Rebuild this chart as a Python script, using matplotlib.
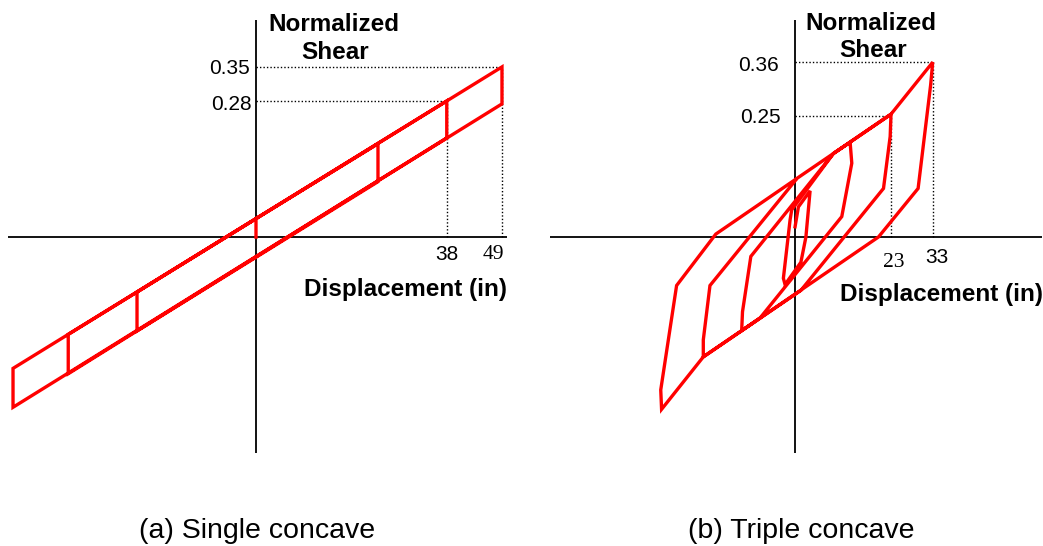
import matplotlib.pyplot as plt

# single concave loop: displacement (in), normalized shear
disp_a = [0.0, 0.0, 24.3, 24.3, -23.7, -23.7, 38.0, 38.0, -37.4, -37.4,
          49.0, 49.0, -48.4, -48.4, 0.0]
shear_a = [0.0, 0.038, 0.192, 0.114, -0.193, -0.113, 0.280, 0.204, -0.281, -0.200,
           0.350, 0.274, -0.350, -0.270, 0.038]

# triple concave loops
disp_b = [0.0, 0.8, 3.6, 2.6, 1.4, -2.4, -2.8, -1.2, -0.8, 9.2, 13.2, 13.6, 11.2,
          -8.4, -12.8, -12.6, -10.6, 9.2, 23.0, 22.8, 21.2, 1.4, -22.0, -22.0,
          -20.4, 0.5, 23.0, 33.0, 32.5, 29.5, 20.0, -22.0, -32.0, -32.2, -28.4,
          -19.0, 0.0]
shear_b = [0.021, 0.062, 0.095, 0.0, -0.052, -0.098, -0.085, 0.035, 0.056, 0.172,
           0.195, 0.152, 0.042, -0.167, -0.193, -0.154, -0.040, 0.172, 0.253,
           0.207, 0.100, -0.110, -0.247, -0.212, -0.100, 0.121, 0.253, 0.360,
           0.313, 0.100, 0.0, -0.247, -0.355, -0.315, -0.100, 0.006, 0.118]

# marked peaks: (displacement, shear, displacement label, shear label)
marks_a = [(49, 0.35, "49", "0.35"), (38, 0.28, "38", "0.28")]
marks_b = [(33, 0.36, "33", "0.36"), (23, 0.25, "23", "0.25")]

W, H = 1043, 546
fig = plt.figure(figsize=(W / 100, H / 100), dpi=100)


def make_axes(left, right, top, bottom, xlim, ylim):
    ax = fig.add_axes([left / W, (H - bottom) / H, (right - left) / W, (bottom - top) / H])
    ax.set_xlim(*xlim)
    ax.set_ylim(*ylim)
    ax.axis("off")
    ax.axhline(0, color="black", lw=1.3, zorder=1)
    ax.axvline(0, color="black", lw=1.3, zorder=1)
    return ax


def guides(ax, marks):
    for x, y, _, _ in marks:
        ax.plot([0, x], [y, y], color="black", lw=1.0, ls=(0, (1, 1.5)), zorder=1)
        ax.plot([x, x], [0, y], color="black", lw=1.0, ls=(0, (1, 1.5)), zorder=1)


sans = "Liberation Sans"
serif = "Liberation Serif"

# (a) single concave
ax1 = make_axes(8, 507, 20, 453, (-49.4, 50.0), (-0.444, 0.4465))
guides(ax1, marks_a)
ax1.plot(disp_a, shear_a, color="#ff0000", lw=2.4, solid_joinstyle="miter", zorder=3)
ax1.text(15.5, 0.438, "Normalized", family=sans, weight="bold", fontsize=17.5,
         ha="center", va="center")
ax1.text(15.8, 0.380, "Shear", family=sans, weight="bold", fontsize=17.5,
         ha="center", va="center")
ax1.text(29.8, -0.107, "Displacement (in)", family=sans, weight="bold", fontsize=17.5,
         ha="center", va="center")
ax1.text(-1.2, 0.346, marks_a[0][3], family=sans, fontsize=15, ha="right", va="center")
ax1.text(-0.8, 0.272, marks_a[1][3], family=sans, fontsize=15, ha="right", va="center")
ax1.text(47.2, -0.035, marks_a[0][2], family=serif, fontsize=15.5, ha="center", va="center")
ax1.text(38.0, -0.035, marks_a[1][2], family=sans, fontsize=15, ha="center", va="center")

# (b) triple concave
ax2 = make_axes(550, 1042, 20, 453, (-58.75, 59.2), (-0.445, 0.447))
guides(ax2, marks_b)
ax2.plot(disp_b, shear_b, color="#ff0000", lw=2.4, solid_joinstyle="miter", zorder=3)
ax2.text(18.2, 0.440, "Normalized", family=sans, weight="bold", fontsize=17.5,
         ha="center", va="center")
ax2.text(18.7, 0.384, "Shear", family=sans, weight="bold", fontsize=17.5,
         ha="center", va="center")
ax2.text(35.0, -0.118, "Displacement (in)", family=sans, weight="bold", fontsize=17.5,
         ha="center", va="center")
ax2.text(-3.8, 0.353, marks_b[0][3], family=sans, fontsize=15, ha="right", va="center")
ax2.text(-3.4, 0.247, marks_b[1][3], family=sans, fontsize=15, ha="right", va="center")
ax2.text(34.1, -0.043, marks_b[0][2], family=sans, fontsize=15, ha="center", va="center")
ax2.text(23.7, -0.052, marks_b[1][2], family=serif, fontsize=15.5, ha="center", va="center")

fig.text(257.5 / W, 1 - 531 / H, "(a) Single concave", family=sans, fontsize=20.5,
         ha="center", va="center")
fig.text(801.5 / W, 1 - 531 / H, "(b) Triple concave", family=sans, fontsize=20.5,
         ha="center", va="center")

fig.savefig("out.png", dpi=100)
